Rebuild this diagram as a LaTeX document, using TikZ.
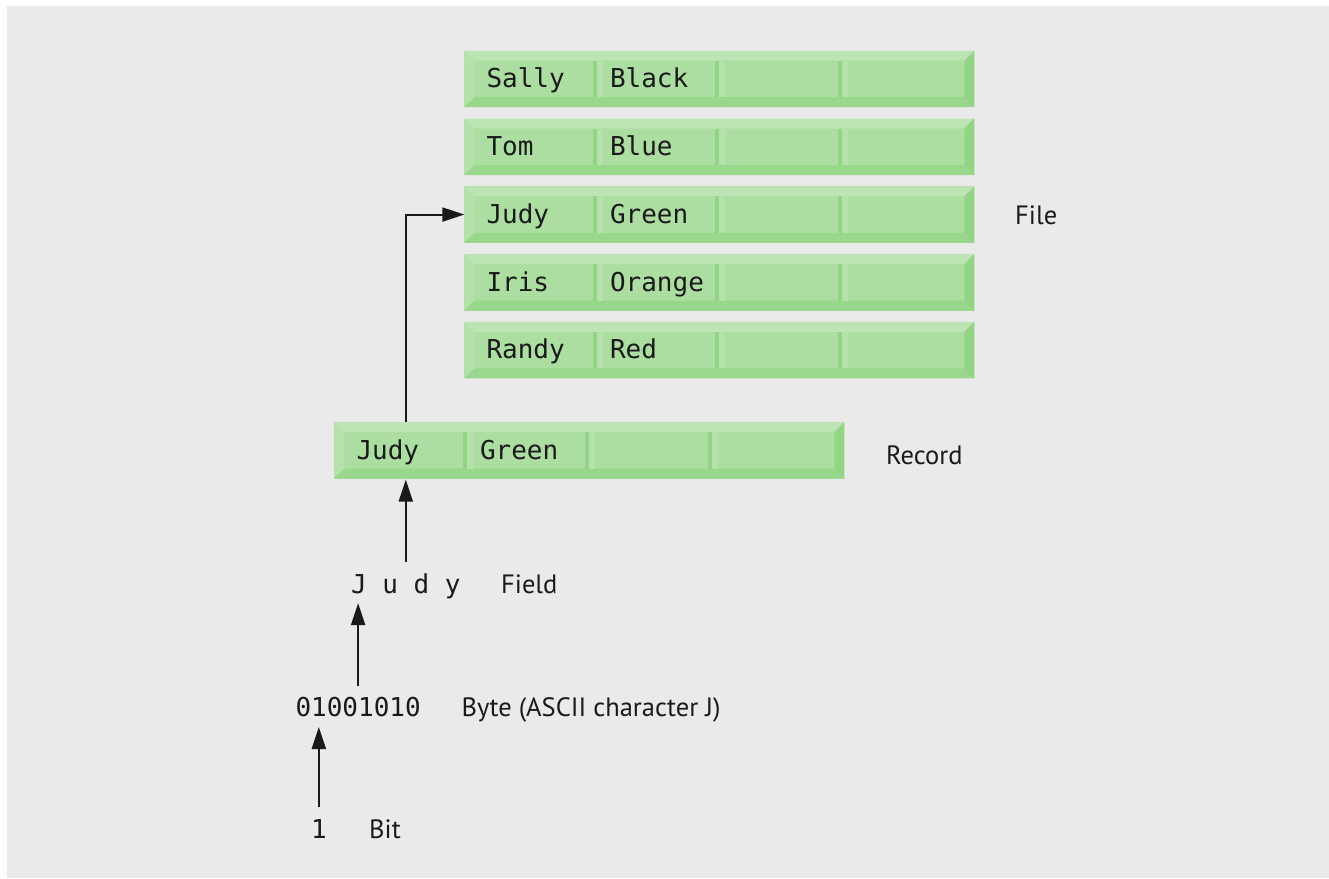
\documentclass[tikz,border=0pt]{standalone}
\usepackage{fontspec}
\setmainfont{PT Sans}
\newfontfamily\monof{DejaVu Sans Mono}
\usetikzlibrary{arrows.meta,calc}
\definecolor{bggray}{HTML}{EAEAEA}
\definecolor{face}{HTML}{ABDEA0}
\definecolor{lite}{HTML}{BDE4B5}
\definecolor{litel}{HTML}{B5E2AB}
\definecolor{dark}{HTML}{99D78C}
\definecolor{darkr}{HTML}{92D585}
\definecolor{ink}{HTML}{1A1A1A}
\newcommand\bevrow[5]{%
  \node[rowbox,anchor=north west] (#1) at (#2,#3) {};
  \fill[face] (#1.north west) rectangle (#1.south east);
  \fill[lite] (#1.north west) -- (#1.north east) -- ++(-10,10) -- ($(#1.north west)+(10,10)$) -- cycle;
  \fill[litel] (#1.north west) -- ($(#1.north west)+(10,10)$) -- ($(#1.south west)+(10,-10)$) -- (#1.south west) -- cycle;
  \fill[dark] (#1.south west) -- ($(#1.south west)+(10,-10)$) -- ($(#1.south east)+(-10,-10)$) -- (#1.south east) -- cycle;
  \fill[darkr] (#1.north east) -- (#1.south east) -- ++(-10,-10) -- ($(#1.north east)+(-10,10)$) -- cycle;
  \foreach \k in {1,2,3} {
    \fill[darkr] ($(#1.north west)+(10+122.5*\k-4,10)$) rectangle ($(#1.south west)+(10+122.5*\k,-10)$);
    \fill[litel] ($(#1.north west)+(10+122.5*\k,10)$) rectangle ($(#1.south west)+(10+122.5*\k+6,-10)$);
  }
  \node[celltext] (#1-a) at ($(#1.north west)+(22,37)$) {#4};
  \node[celltext] (#1-b) at ($(#1.north west)+(145.5,37)$) {#5};
}
\begin{document}
\begin{tikzpicture}[x=1pt,y=-1pt,
  rowbox/.style={minimum width=510pt,minimum height=56.5pt,inner sep=0pt,outer sep=0pt,draw=none},
  celltext/.style={anchor=base west,inner sep=0pt,font=\monof\fontsize{26}{30}\selectfont,text=ink},
  mono/.style={anchor=base west,inner sep=0pt,outer sep=0pt,text height=19pt,text depth=0pt,font=\monof\fontsize{26}{30}\selectfont,text=ink},
  lab/.style={anchor=base west,inner sep=0pt,font=\fontsize{26.5}{30}\selectfont,text=ink},
  arr/.style={line width=2pt,-{Triangle[length=22pt,width=14pt]},draw=ink}]
\useasboundingbox (0,0) rectangle (1329,878);
\fill[bggray] (7,6) rectangle (1329,878);
\bevrow{r1}{464.3}{50.7}{Sally}{Black}
\bevrow{r2}{464.3}{118.5}{Tom}{Blue}
\bevrow{r3}{464.3}{186.3}{Judy}{Green}
\bevrow{r4}{464.3}{254.1}{Iris}{Orange}
\bevrow{r5}{464.3}{321.9}{Randy}{Red}
\bevrow{rec}{334.3}{422}{Judy}{Green}
\node[mono] (bit) at (311,838) {1};
\node[mono] (byte) at (295.5,716) {01001010};
\node[mono] (field) at (351,593) {J u d y};
\node[lab] (lbit) at (369,838) {Bit};
\node[lab] (lbyte) at (461.5,716) {Byte (ASCII character J)};
\node[lab] (lfield) at (501,593) {Field};
\node[lab] (lrec) at (886,464) {Record};
\node[lab] (lfile) at (1015,224) {File};
\draw[arr,shorten <=12pt,shorten >=11pt] (bit.north) -- (byte.south -| bit.north);
\draw[arr,shorten <=11pt,shorten >=10pt] (byte.north) -- (byte.north |- field.south);
\draw[arr,shorten <=12pt,shorten >=1pt] (field.north) -- (rec.south -| field.north);
\draw[arr] (rec.north -| field.north) |- (r3.west);
\end{tikzpicture}
\end{document}
